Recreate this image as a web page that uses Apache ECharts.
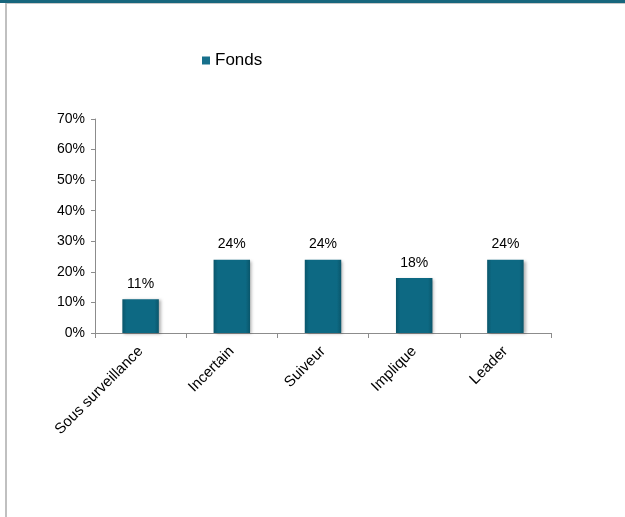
<!DOCTYPE html>
<html>
<head>
<meta charset="utf-8">
<title>Fonds</title>
<script src="https://cdn.jsdelivr.net/npm/echarts@6/dist/echarts.min.js"></script>
<style>
  html, body { margin: 0; padding: 0; background: #ffffff; }
  #chart { width: 625px; height: 517px; }
</style>
</head>
<body>
<div id="chart"></div>
<script>
// Profile categories and share of funds (in %)
const categories = ['Sous surveillance', 'Incertain', 'Suiveur', 'Implique', 'Leader'];
const fondsValues = [11, 24, 24, 18, 24];
const seriesName = 'Fonds';

const FONT = 'Liberation Sans, Arial, sans-serif';

const chart = echarts.init(document.getElementById('chart'), null, { renderer: 'canvas' });

// bar body: darker edges, lighter band near the top
const barFill = new echarts.graphic.LinearGradient(0, 0, 1, 0, [
  { offset: 0, color: '#0a566b' },
  { offset: 0.12, color: '#0d6983' },
  { offset: 0.88, color: '#0d6983' },
  { offset: 1, color: '#0a566b' }
]);

chart.setOption({
  animation: false,
  backgroundColor: '#ffffff',
  textStyle: { fontFamily: FONT, color: '#000000' },
  graphic: [
    { type: 'rect', shape: { x: 0, y: 0, width: 625, height: 3 }, style: { fill: '#17667d' }, z: 10 },
    { type: 'rect', shape: { x: 5, y: 3, width: 620, height: 1 }, style: { fill: '#c8c8c8' }, z: 10 },
    { type: 'rect', shape: { x: 5, y: 3, width: 2, height: 514 }, style: { fill: '#c0c0c0' }, z: 10 }
  ],
  legend: {
    data: [seriesName],
    left: 197,
    top: 47,
    itemWidth: 8,
    itemHeight: 8,
    itemGap: 4,
    icon: 'rect',
    itemStyle: { color: '#17708c', shadowBlur: 0, shadowOffsetX: 0, shadowOffsetY: 0 },
    textStyle: { fontSize: 17, color: '#000000', fontFamily: FONT }
  },
  grid: {
    left: 95,
    right: 74,
    top: 119,
    bottom: 184,
    outerBoundsMode: 'none',
    containLabel: false
  },
  xAxis: {
    type: 'category',
    data: categories,
    boundaryGap: true,
    axisLine: { show: true, lineStyle: { color: '#8c8c8c', width: 1 } },
    axisTick: { show: true, alignWithLabel: false, length: 5, lineStyle: { color: '#8c8c8c' } },
    axisLabel: {
      interval: 0,
      rotate: 45,
      margin: 16,
      fontSize: 15,
      color: '#000000',
      fontFamily: FONT
    },
    splitLine: { show: false }
  },
  yAxis: {
    type: 'value',
    min: 0,
    max: 70,
    interval: 10,
    axisLine: { show: true, lineStyle: { color: '#8c8c8c', width: 1 } },
    axisTick: { show: true, length: 4, lineStyle: { color: '#8c8c8c' } },
    axisLabel: {
      formatter: '{value}%',
      fontSize: 14,
      margin: 10,
      color: '#000000',
      fontFamily: FONT
    },
    splitLine: { show: false }
  },
  series: [{
    name: seriesName,
    type: 'bar',
    data: fondsValues,
    barWidth: '40%',
    itemStyle: {
      color: barFill,
      shadowColor: 'rgba(0,0,0,0.3)',
      shadowBlur: 3,
      shadowOffsetX: 2,
      shadowOffsetY: 1
    },
    label: {
      show: true,
      position: 'top',
      distance: 8,
      formatter: '{c}%',
      fontSize: 14,
      color: '#000000',
      fontFamily: FONT
    }
  }]
});
</script>
</body>
</html>
